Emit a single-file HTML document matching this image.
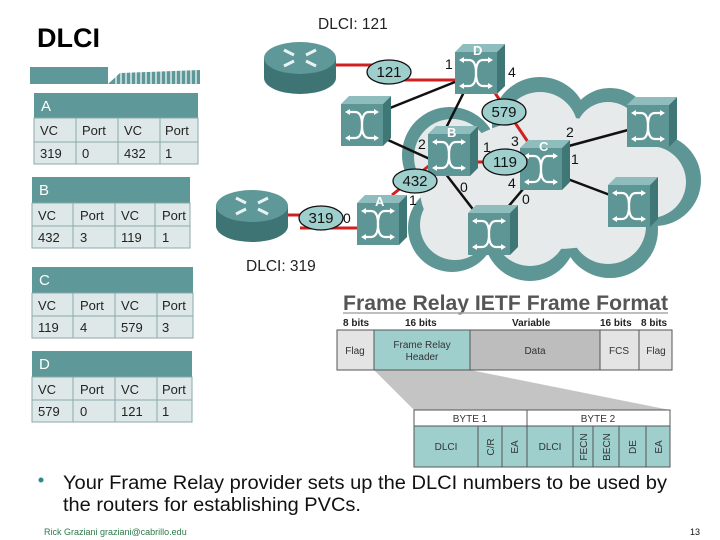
<!DOCTYPE html>
<html><head><meta charset="utf-8"><style>
html,body{margin:0;padding:0;background:#fff;}
svg{display:block;font-family:"Liberation Sans",Arial,sans-serif;}
</style></head><body>
<svg width="720" height="540" viewBox="0 0 720 540" xmlns="http://www.w3.org/2000/svg">
<defs>
<symbol id="sw" viewBox="0 0 50 50">
<polygon points="0,8 8,0 50,0 42,8" fill="#8fbcbc"/>
<polygon points="42,8 50,0 50,42 42,50" fill="#3f7676"/>
<rect x="0" y="8" width="42" height="42" fill="#5e9595"/>
<g stroke="#fff" stroke-width="2.2" fill="none">
<path d="M6,16 H14 Q21,16 21,29 Q21,42 28,42 H36"/>
<path d="M6,42 H14 Q21,42 21,29 Q21,16 28,16 H36"/>
</g>
<g fill="#fff">
<polygon points="4,16 9,13 9,19"/><polygon points="38,16 33,13 33,19"/>
<polygon points="4,42 9,39 9,45"/><polygon points="38,42 33,39 33,45"/>
</g>
</symbol>
<symbol id="rt" viewBox="0 0 76 56">
<path d="M2,18 V38 A36,16 0 0 0 74,38 V18 Z" fill="#3e7474"/>
<ellipse cx="38" cy="18" rx="36" ry="16" fill="#5f9898"/>
<g stroke="#e8f2f2" stroke-width="3"><line x1="22" y1="10" x2="32" y2="15"/><line x1="44" y1="21" x2="54" y2="26"/><line x1="22" y1="26" x2="32" y2="21"/><line x1="44" y1="15" x2="54" y2="10"/></g>
</symbol>
</defs>

<text x="37" y="47" font-size="27" font-weight="bold">DLCI</text>

<rect x="30" y="67" width="78" height="17" fill="#5e9898"/>
<polygon points="108,84 120,73 200,70 200,84" fill="#5e9898"/>
<g stroke="#fff" stroke-width="1.2">
<line x1="116" y1="68" x2="116" y2="84"/><line x1="121" y1="68" x2="121" y2="84"/><line x1="126" y1="68" x2="126" y2="84"/><line x1="131" y1="68" x2="131" y2="84"/><line x1="136" y1="68" x2="136" y2="84"/><line x1="141" y1="68" x2="141" y2="84"/><line x1="146" y1="68" x2="146" y2="84"/><line x1="151" y1="68" x2="151" y2="84"/><line x1="156" y1="68" x2="156" y2="84"/><line x1="161" y1="68" x2="161" y2="84"/><line x1="166" y1="68" x2="166" y2="84"/><line x1="171" y1="68" x2="171" y2="84"/><line x1="176" y1="68" x2="176" y2="84"/><line x1="181" y1="68" x2="181" y2="84"/><line x1="186" y1="68" x2="186" y2="84"/><line x1="191" y1="68" x2="191" y2="84"/><line x1="196" y1="68" x2="196" y2="84"/>
</g>

<g font-size="13" fill="#222">
<rect x="34" y="93" width="164" height="25" fill="#5e9898"/>
<text x="41" y="111" fill="#fff" font-size="15">A</text>
<rect x="34" y="118" width="164" height="46" fill="#dfe8e8" stroke="#8aa" stroke-width="1"/>
<line x1="34" y1="142" x2="198" y2="142" stroke="#8aa"/>
<g stroke="#8aa"><line x1="76" y1="118" x2="76" y2="164"/><line x1="118" y1="118" x2="118" y2="164"/><line x1="160" y1="118" x2="160" y2="164"/></g>
<text x="40" y="135">VC</text><text x="82" y="135">Port</text><text x="124" y="135">VC</text><text x="165" y="135">Port</text>
<text x="40" y="158">319</text><text x="82" y="158">0</text><text x="124" y="158">432</text><text x="165" y="158">1</text>
<rect x="32" y="177" width="158" height="26" fill="#5e9898"/>
<text x="39" y="195" fill="#fff" font-size="15">B</text>
<rect x="32" y="203" width="158" height="45" fill="#dfe8e8" stroke="#8aa"/>
<line x1="32" y1="226" x2="190" y2="226" stroke="#8aa"/>
<g stroke="#8aa"><line x1="73" y1="203" x2="73" y2="248"/><line x1="115" y1="203" x2="115" y2="248"/><line x1="155" y1="203" x2="155" y2="248"/></g>
<text x="38" y="220">VC</text><text x="80" y="220">Port</text><text x="121" y="220">VC</text><text x="162" y="220">Port</text>
<text x="38" y="242">432</text><text x="80" y="242">3</text><text x="121" y="242">119</text><text x="162" y="242">1</text>
<rect x="32" y="267" width="161" height="26" fill="#5e9898"/>
<text x="39" y="285" fill="#fff" font-size="15">C</text>
<rect x="32" y="293" width="161" height="45" fill="#dfe8e8" stroke="#8aa"/>
<line x1="32" y1="316" x2="193" y2="316" stroke="#8aa"/>
<g stroke="#8aa"><line x1="73" y1="293" x2="73" y2="338"/><line x1="115" y1="293" x2="115" y2="338"/><line x1="157" y1="293" x2="157" y2="338"/></g>
<text x="38" y="310">VC</text><text x="80" y="310">Port</text><text x="121" y="310">VC</text><text x="162" y="310">Port</text>
<text x="38" y="332">119</text><text x="80" y="332">4</text><text x="121" y="332">579</text><text x="162" y="332">3</text>
<rect x="32" y="351" width="160" height="26" fill="#5e9898"/>
<text x="39" y="369" fill="#fff" font-size="15">D</text>
<rect x="32" y="377" width="160" height="45" fill="#dfe8e8" stroke="#8aa"/>
<line x1="32" y1="400" x2="192" y2="400" stroke="#8aa"/>
<g stroke="#8aa"><line x1="73" y1="377" x2="73" y2="422"/><line x1="115" y1="377" x2="115" y2="422"/><line x1="157" y1="377" x2="157" y2="422"/></g>
<text x="38" y="394">VC</text><text x="80" y="394">Port</text><text x="121" y="394">VC</text><text x="162" y="394">Port</text>
<text x="38" y="416">579</text><text x="80" y="416">0</text><text x="121" y="416">121</text><text x="162" y="416">1</text>
</g>

<!-- cloud -->
<g fill="#5e9595">
<circle cx="450" cy="155" r="48"/><circle cx="540" cy="125" r="48"/><circle cx="610" cy="130" r="42"/><circle cx="655" cy="180" r="46"/>
<circle cx="610" cy="230" r="48"/><circle cx="530" cy="235" r="46"/><circle cx="452" cy="228" r="44"/><circle cx="540" cy="185" r="62"/>
</g>
<g fill="#e6eaea">
<circle cx="452" cy="157" r="38"/><circle cx="540" cy="130" r="38"/><circle cx="608" cy="135" r="33"/><circle cx="650" cy="182" r="36"/>
<circle cx="608" cy="226" r="38"/><circle cx="530" cy="229" r="37"/><circle cx="455" cy="225" r="35"/>
<ellipse cx="555" cy="183" rx="112" ry="66"/>
<ellipse cx="470" cy="190" rx="50" ry="50"/>
</g>

<g stroke="#111" stroke-width="2.5">
<line x1="390" y1="108" x2="460" y2="80"/>
<line x1="388" y1="140" x2="432" y2="160"/>
<line x1="464" y1="92" x2="446" y2="128"/>
<line x1="445" y1="173" x2="475" y2="212"/>
<line x1="524" y1="188" x2="508" y2="207"/>
<line x1="565" y1="147" x2="628" y2="130"/>
<line x1="565" y1="178" x2="610" y2="195"/>
</g>
<g stroke="#d12020" stroke-width="3">
<line x1="336" y1="65" x2="400" y2="65"/>
<line x1="400" y1="80" x2="458" y2="80"/>
<line x1="287" y1="215" x2="305" y2="215"/>
<line x1="300" y1="228" x2="360" y2="228"/>
<line x1="495" y1="93" x2="530" y2="145"/>
<line x1="430" y1="165" x2="392" y2="195"/>
<line x1="475" y1="162" x2="525" y2="162"/>
</g>

<use href="#rt" x="262" y="40" width="76" height="56"/>
<use href="#rt" x="214" y="188" width="76" height="56"/>

<use href="#sw" x="455" y="44" width="50" height="50"/>
<use href="#sw" x="341" y="96" width="50" height="50"/>
<use href="#sw" x="428" y="126" width="50" height="50"/>
<use href="#sw" x="520" y="140" width="50" height="50"/>
<use href="#sw" x="627" y="97" width="50" height="50"/>
<use href="#sw" x="608" y="177" width="50" height="50"/>
<use href="#sw" x="357" y="195" width="50" height="50"/>
<use href="#sw" x="468" y="205" width="50" height="50"/>

<g fill="#fff" font-size="13" font-weight="bold">
<text x="473" y="55">D</text><text x="447" y="137">B</text><text x="539" y="151">C</text><text x="375" y="206">A</text>
</g>

<g stroke="#111" stroke-width="1.3" fill="#9fcfcc">
<ellipse cx="389" cy="72" rx="22" ry="12"/>
<ellipse cx="504" cy="112" rx="22" ry="13"/>
<ellipse cx="505" cy="162" rx="22" ry="13"/>
<ellipse cx="415" cy="181" rx="22" ry="12"/>
<ellipse cx="321" cy="218" rx="22" ry="12"/>
</g>
<g font-size="15" fill="#111" text-anchor="middle">
<text x="389" y="77">121</text><text x="504" y="117">579</text><text x="505" y="167">119</text><text x="415" y="186">432</text><text x="321" y="223">319</text>
</g>

<g font-size="14" fill="#111">
<text x="445" y="69">1</text><text x="508" y="77">4</text>
<text x="418" y="149">2</text><text x="483" y="152">1</text><text x="511" y="146">3</text>
<text x="566" y="137">2</text><text x="571" y="164">1</text><text x="508" y="188">4</text><text x="522" y="204">0</text>
<text x="460" y="192">0</text><text x="409" y="205">1</text><text x="343" y="223">0</text>
</g>
<g font-size="15.5" fill="#222">
<text x="318" y="29">DLCI: 121</text>
<text x="246" y="271">DLCI: 319</text>
</g>

<text x="343" y="310" font-size="21" font-weight="bold" fill="#555" textLength="325" lengthAdjust="spacingAndGlyphs">Frame Relay IETF Frame Format</text>
<line x1="343" y1="313" x2="668" y2="313" stroke="#aaa" stroke-width="1.5"/>
<g font-size="10" font-weight="bold" fill="#222">
<text x="343" y="326">8 bits</text><text x="405" y="326">16 bits</text><text x="512" y="326">Variable</text><text x="600" y="326">16 bits</text><text x="641" y="326">8 bits</text>
</g>
<polygon points="374,370 470,370 670,410 670,467 414,467 414,410" fill="#c4c4c4"/>
<rect x="337" y="330" width="37" height="40" fill="#e4e4e4" stroke="#555"/>
<rect x="374" y="330" width="96" height="40" fill="#9fcfcc" stroke="#555"/>
<rect x="470" y="330" width="130" height="40" fill="#bdbdbd" stroke="#555"/>
<rect x="600" y="330" width="39" height="40" fill="#e4e4e4" stroke="#555"/>
<rect x="639" y="330" width="33" height="40" fill="#e4e4e4" stroke="#555"/>
<g font-size="10" fill="#333" text-anchor="middle">
<text x="355" y="354">Flag</text><text x="422" y="348">Frame Relay</text><text x="422" y="360">Header</text>
<text x="535" y="354">Data</text><text x="619" y="354">FCS</text><text x="656" y="354">Flag</text>
</g>
<rect x="414" y="410" width="256" height="16" fill="#fff" stroke="#555"/>
<line x1="527" y1="410" x2="527" y2="426" stroke="#555"/>
<rect x="414" y="426" width="256" height="41" fill="#9fcfcc" stroke="#555"/>
<g stroke="#555"><line x1="478" y1="426" x2="478" y2="467"/><line x1="502" y1="426" x2="502" y2="467"/><line x1="527" y1="426" x2="527" y2="467"/><line x1="573" y1="426" x2="573" y2="467"/><line x1="593" y1="426" x2="593" y2="467"/><line x1="619" y1="426" x2="619" y2="467"/><line x1="646" y1="426" x2="646" y2="467"/></g>
<g font-size="10" fill="#333" text-anchor="middle">
<text x="470" y="422">BYTE 1</text><text x="598" y="422">BYTE 2</text>
<text x="446" y="450">DLCI</text><text x="550" y="450">DLCI</text>
<text transform="translate(494,447) rotate(-90)">C/R</text>
<text transform="translate(518,447) rotate(-90)">EA</text>
<text transform="translate(587,447) rotate(-90)">FECN</text>
<text transform="translate(610,447) rotate(-90)">BECN</text>
<text transform="translate(636,447) rotate(-90)">DE</text>
<text transform="translate(662,447) rotate(-90)">EA</text>
</g>

<circle cx="41" cy="480" r="2.5" fill="#2a8a8a"/>
<g font-size="19" fill="#111">
<text x="63" y="489" textLength="604" lengthAdjust="spacingAndGlyphs">Your Frame Relay provider sets up the DLCI numbers to be used by</text>
<text x="63" y="511" textLength="298" lengthAdjust="spacingAndGlyphs">the routers for establishing PVCs.</text>
</g>
<text x="44" y="535" font-size="9" fill="#2a7a4a">Rick Graziani graziani@cabrillo.edu</text>
<text x="700" y="535" font-size="9" fill="#111" text-anchor="end">13</text>
</svg>
</body></html>
